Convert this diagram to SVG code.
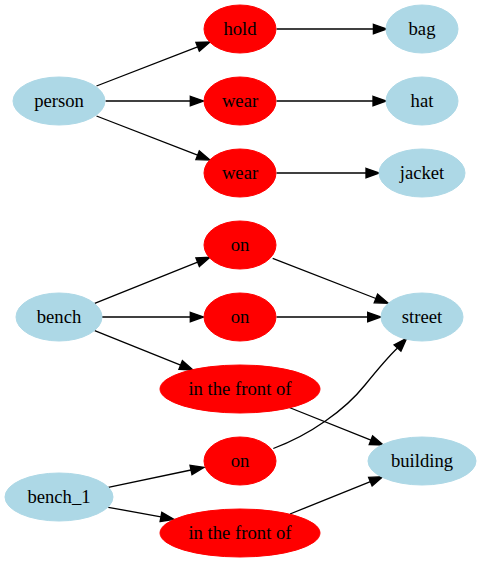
<svg xmlns="http://www.w3.org/2000/svg" width="481" height="563" viewBox="0 0 481 563">
<style>
.obj ellipse{fill:#add8e6;stroke:#add8e6}
.rel ellipse{fill:#ff0000;stroke:#ff0000}
.t{font-family:'Liberation Serif','DejaVu Serif','Noto Serif',serif;font-size:18.67px;fill:#000;text-anchor:middle}
#edges path{fill:none;stroke:#000;stroke-width:1.33}
#edges polygon{fill:#000;stroke:#000;stroke-width:1.33}
</style>
<rect width="481" height="563" fill="#fff"/>
<g id="edges">
<path d="M96.5,86 L197.6,46.8"/><polygon points="199.3,51.2 210,42 195.9,42.4"/>
<path d="M105.5,101 L190.3,101"/><polygon points="190.3,96.3 203.6,101 190.3,105.7"/>
<path d="M96.5,116 L197.6,155.2"/><polygon points="195.9,159.6 210,160 199.3,150.8"/>
<path d="M276.5,29 L373.4,29"/><polygon points="373.4,24.3 386.7,29 373.4,33.7"/>
<path d="M276.5,101 L373,101"/><polygon points="373,96.3 386.3,101 373,105.7"/>
<path d="M276.5,173 L366,173"/><polygon points="366,168.3 379.3,173 366,177.7"/>
<path d="M94.7,303.3 L197.6,262.2"/><polygon points="199.4,266.6 210,257.3 195.9,257.9"/>
<path d="M102,317 L190.3,317"/><polygon points="190.3,312.3 203.6,317 190.3,321.7"/>
<path d="M94.7,330.7 L180.6,365.1"/><polygon points="178.9,369.4 193,370 182.4,360.7"/>
<path d="M272.7,258.3 L375.9,298.5"/><polygon points="374.2,302.8 388.3,303.3 377.6,294.1"/>
<path d="M276.5,317 L367.7,317"/><polygon points="367.7,312.3 381,317 367.7,321.7"/>
<path d="M289.3,407.5 L370.9,440.2"/><polygon points="369.2,444.5 383.3,445 372.6,435.8"/>
<path d="M273.3,448.5 C310,435 345,410 365,385 C378,369 388,357 397.5,348"/><polygon points="400.9,351.2 406.7,338.3 394.1,344.8"/>
<path d="M108.3,487.3 L191,470"/><polygon points="192,474.6 204,467.3 190,465.4"/>
<path d="M108.3,507.3 L160.9,516.9"/><polygon points="160.1,521.5 174,519.3 161.8,512.3"/>
<path d="M290,514 L370.4,481.7"/><polygon points="372.1,486 382.7,476.7 368.6,477.4"/>
</g>
<g id="person" class="obj"><ellipse cx="59" cy="101" rx="46" ry="24"/><text class="t" x="59" y="107">person</text></g>
<g id="hold" class="rel"><ellipse cx="240" cy="29" rx="36" ry="24"/><text class="t" x="240" y="35">hold</text></g>
<g id="wear" class="rel"><ellipse cx="240" cy="101" rx="36" ry="24"/><text class="t" x="240" y="107">wear</text></g>
<g id="wear_2" class="rel"><ellipse cx="240" cy="173" rx="36" ry="24"/><text class="t" x="240" y="179">wear</text></g>
<g id="bag" class="obj"><ellipse cx="422" cy="29" rx="36" ry="24"/><text class="t" x="422" y="35">bag</text></g>
<g id="hat" class="obj"><ellipse cx="422" cy="101" rx="36" ry="24"/><text class="t" x="422" y="107">hat</text></g>
<g id="jacket" class="obj"><ellipse cx="422" cy="173" rx="43" ry="24"/><text class="t" x="422" y="179">jacket</text></g>
<g id="on_1" class="rel"><ellipse cx="240" cy="245" rx="36" ry="24"/><text class="t" x="240" y="251">on</text></g>
<g id="bench" class="obj"><ellipse cx="59" cy="317" rx="43" ry="24"/><text class="t" x="59" y="323">bench</text></g>
<g id="on_2" class="rel"><ellipse cx="240" cy="317" rx="36" ry="24"/><text class="t" x="240" y="323">on</text></g>
<g id="street" class="obj"><ellipse cx="422" cy="317" rx="41" ry="24"/><text class="t" x="422" y="323">street</text></g>
<g id="front_1" class="rel"><ellipse cx="240" cy="389" rx="80" ry="24"/><text class="t" x="240" y="395">in the front of</text></g>
<g id="building" class="obj"><ellipse cx="422" cy="461" rx="54" ry="24"/><text class="t" x="422" y="467">building</text></g>
<g id="on_3" class="rel"><ellipse cx="240" cy="461" rx="36" ry="24"/><text class="t" x="240" y="467">on</text></g>
<g id="bench_1" class="obj"><ellipse cx="59" cy="497" rx="54" ry="24"/><text class="t" x="59" y="503">bench_1</text></g>
<g id="front_2" class="rel"><ellipse cx="240" cy="533" rx="80" ry="24"/><text class="t" x="240" y="539">in the front of</text></g>
</svg>
